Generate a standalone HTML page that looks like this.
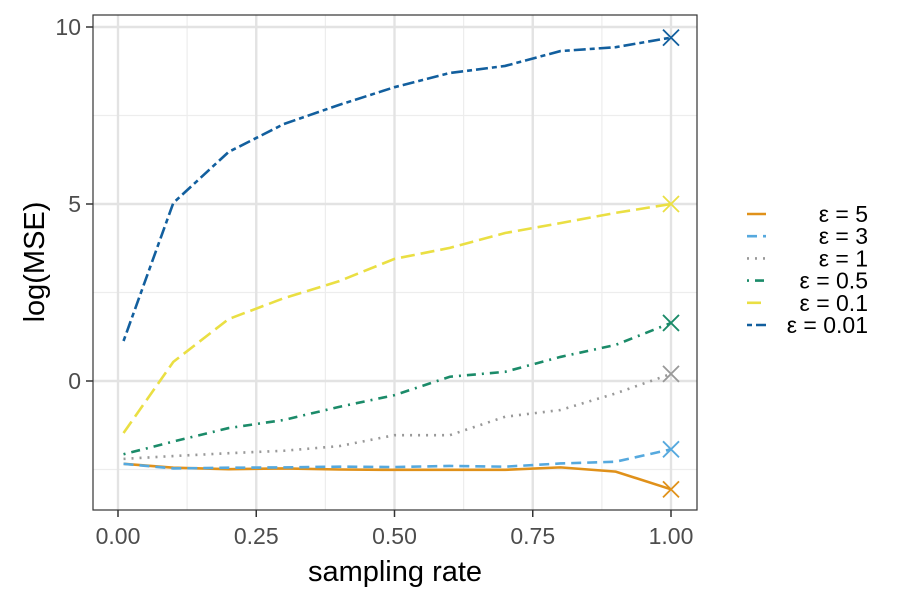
<!DOCTYPE html>
<html><head><meta charset="utf-8"><style>
body{margin:0;background:#fff}
svg text{font-family:"Liberation Sans",sans-serif}
</style></head><body>
<svg id="chart" width="900" height="600" xmlns="http://www.w3.org/2000/svg">
<rect x="0" y="0" width="900" height="600" fill="#fff"/>
<g id="grid"></g>
<g id="series"></g>
<rect x="93" y="15" width="604" height="495" fill="none" stroke="#333" stroke-width="1.2"/>
<g id="axes"></g>
<text x="395" y="581" font-size="29" text-anchor="middle" fill="#000">sampling rate</text>
<text transform="translate(44,262) rotate(-90)" font-size="29" text-anchor="middle" fill="#000">log(MSE)</text>
<g id="legend"></g>
</svg>
<script>
const xs = [0.01,0.1,0.2,0.3,0.4,0.5,0.6,0.7,0.8,0.9,1.0];
const seriesNames = ["ε = 5","ε = 3","ε = 1","ε = 0.5","ε = 0.1","ε = 0.01"];
const eps5   = [-2.34,-2.45,-2.49,-2.47,-2.5,-2.51,-2.51,-2.51,-2.44,-2.56,-3.06];
const eps3   = [-2.34,-2.47,-2.45,-2.44,-2.42,-2.43,-2.4,-2.42,-2.33,-2.28,-1.93];
const eps1   = [-2.2,-2.12,-2.04,-1.97,-1.84,-1.53,-1.53,-1.01,-0.82,-0.35,0.2];
const eps05  = [-2.07,-1.71,-1.33,-1.1,-0.73,-0.4,0.12,0.26,0.68,1.02,1.64];
const eps01  = [-1.47,0.54,1.75,2.34,2.82,3.45,3.76,4.18,4.46,4.75,5.0];
const eps001 = [1.13,5.03,6.47,7.26,7.8,8.3,8.7,8.9,9.32,9.43,9.7];
const xTicks = [0,0.25,0.5,0.75,1];
const xTickLabels = ["0.00","0.25","0.50","0.75","1.00"];
const yTicks = [0,5,10];
const yTickLabels = ["0","5","10"];

const NS="http://www.w3.org/2000/svg";
const X = v => 118 + v*553;
const Y = v => 381 - v*35.4;
const allSeries=[eps5,eps3,eps1,eps05,eps01,eps001];
const colors=["#E0911A","#56A9DE","#999999","#1B8B69","#EADF43","#125F9E"];
const dashes=["","10,6","2,6","2,6,9,6","14,6","5,4,12,4"];
function mk(tag,attrs,parent){const e=document.createElementNS(NS,tag);for(const k in attrs)e.setAttribute(k,attrs[k]);parent.appendChild(e);return e;}
const grid=document.getElementById('grid');
[0.125,0.375,0.625,0.875].forEach(v=>{const l=mk('line',{x1:X(v),x2:X(v),y1:15,y2:510,stroke:'#ededed','stroke-width':1.2},grid);

});
[-2.5,2.5,7.5].forEach(v=>{const l=mk('line',{x1:93,x2:697,y1:Y(v),y2:Y(v),stroke:'#ededed','stroke-width':1.2},grid);

});
xTicks.forEach(v=>{const l=mk('line',{x1:X(v),x2:X(v),y1:15,y2:510,stroke:'#e3e3e3','stroke-width':2.4},grid);

});
yTicks.forEach(v=>{const l=mk('line',{x1:93,x2:697,y1:Y(v),y2:Y(v),stroke:'#e3e3e3','stroke-width':2.4},grid);

});
const axes=document.getElementById('axes');
xTicks.forEach((v,i)=>{mk('line',{x1:X(v),x2:X(v),y1:510,y2:517,stroke:'#333','stroke-width':1.5},axes);
const t=mk('text',{x:X(v),y:544,'font-size':23,'text-anchor':'middle',fill:'#4d4d4d'},axes);t.textContent=xTickLabels[i];

});
yTicks.forEach((v,i)=>{mk('line',{x1:86,x2:93,y1:Y(v),y2:Y(v),stroke:'#333','stroke-width':1.5},axes);
const t=mk('text',{x:81,y:Y(v)+8,'font-size':23,'text-anchor':'end',fill:'#4d4d4d'},axes);t.textContent=yTickLabels[i];

});
const sg=document.getElementById('series');
allSeries.forEach((s,k)=>{
  const p=mk('polyline',{points:s.map((v,i)=>X(xs[i])+','+Y(v)).join(' '),fill:'none',stroke:colors[k],'stroke-width':2.6,'stroke-dasharray':dashes[k]},sg);
  
  
  const lx=X(xs[xs.length-1]), ly=Y(s[s.length-1]);
  const m=mk('path',{d:`M${lx-8},${ly-8}L${lx+8},${ly+8}M${lx-8},${ly+8}L${lx+8},${ly-8}`,stroke:colors[k],'stroke-width':1.8,fill:'none'},sg);
  
  
});
const lg=document.getElementById('legend');
seriesNames.forEach((n,k)=>{const y=214+k*22.2;
  const l=mk('line',{x1:747,x2:766,y1:y,y2:y,stroke:colors[k],'stroke-width':2.6,'stroke-dasharray':dashes[k]},lg);
  
  
  const t=mk('text',{x:868,y:y+8,'font-size':23,'text-anchor':'end',fill:'#000'},lg);t.textContent=n;
  
  
});
</script>
</body></html>
